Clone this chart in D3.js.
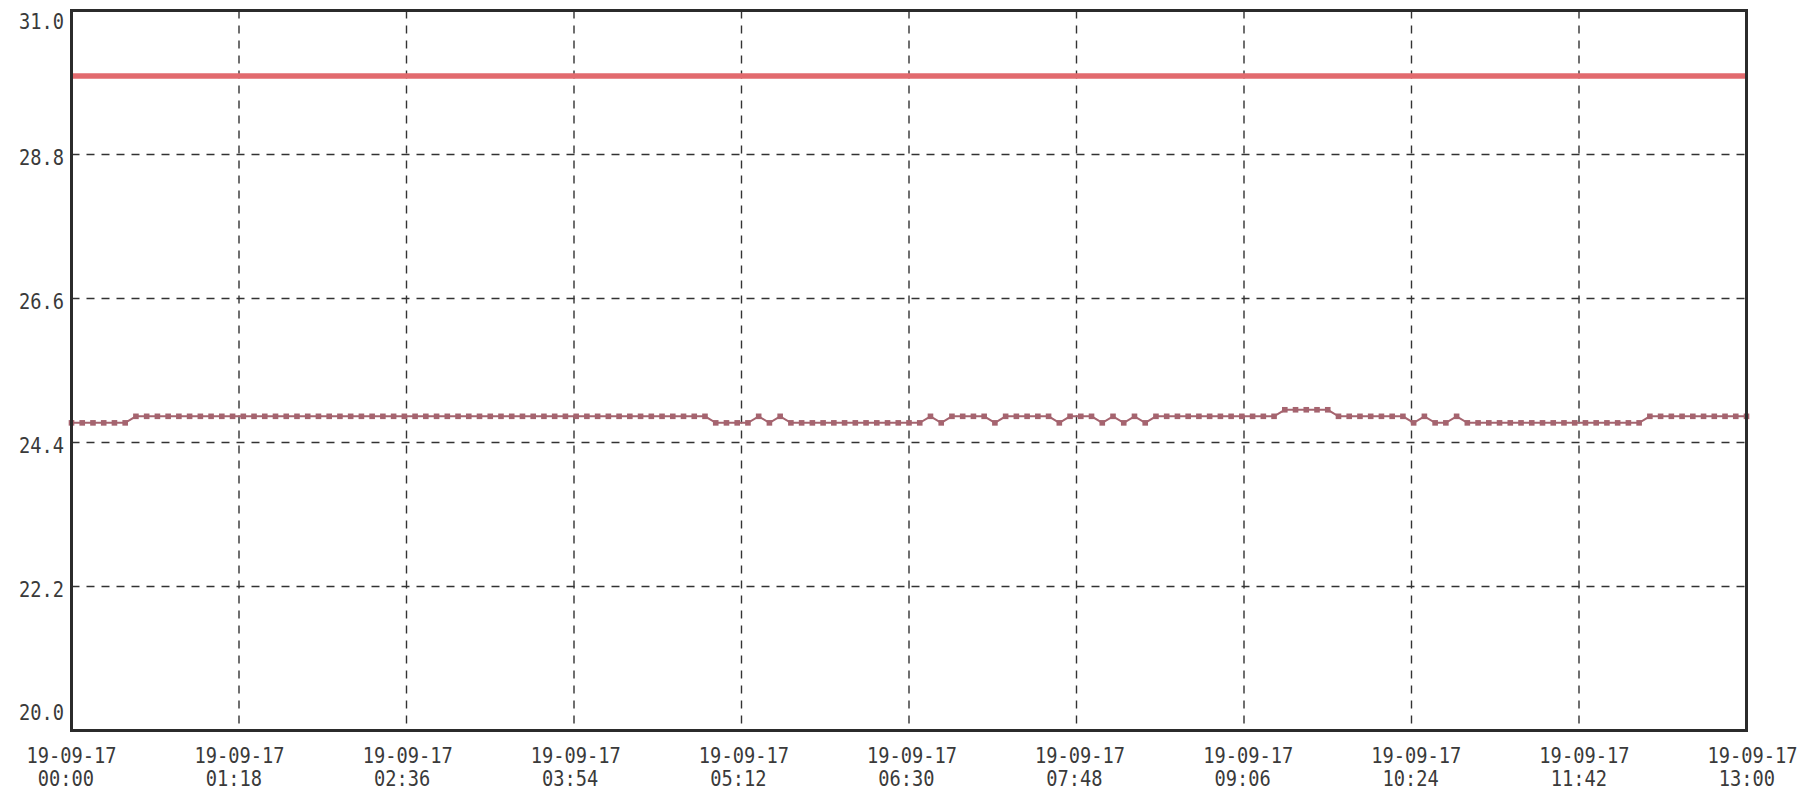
<!DOCTYPE html>
<html><head><meta charset="utf-8">
<script src="https://cdn.jsdelivr.net/npm/d3@7"></script>
<style>html,body{margin:0;padding:0;background:#fff;} svg{display:block}</style>
</head><body><svg id="c" width="1812" height="793"></svg>
<script>
// ---- data ----
const dateLabel = "19-09-17";
const xTickTimes = ["00:00","01:18","02:36","03:54","05:12","06:30","07:48","09:06","10:24","11:42","13:00"];
const yTicks = [20.0, 22.2, 24.4, 26.6, 28.8, 31.0];
const sampleStepMinutes = 5; // one sample every 5 minutes, 00:00 .. 13:00

const setpoint = [
  30.0,30.0,30.0,30.0,30.0,30.0,30.0,30.0,30.0,30.0,
  30.0,30.0,30.0,30.0,30.0,30.0,30.0,30.0,30.0,30.0,
  30.0,30.0,30.0,30.0,30.0,30.0,30.0,30.0,30.0,30.0,
  30.0,30.0,30.0,30.0,30.0,30.0,30.0,30.0,30.0,30.0,
  30.0,30.0,30.0,30.0,30.0,30.0,30.0,30.0,30.0,30.0,
  30.0,30.0,30.0,30.0,30.0,30.0,30.0,30.0,30.0,30.0,
  30.0,30.0,30.0,30.0,30.0,30.0,30.0,30.0,30.0,30.0,
  30.0,30.0,30.0,30.0,30.0,30.0,30.0,30.0,30.0,30.0,
  30.0,30.0,30.0,30.0,30.0,30.0,30.0,30.0,30.0,30.0,
  30.0,30.0,30.0,30.0,30.0,30.0,30.0,30.0,30.0,30.0,
  30.0,30.0,30.0,30.0,30.0,30.0,30.0,30.0,30.0,30.0,
  30.0,30.0,30.0,30.0,30.0,30.0,30.0,30.0,30.0,30.0,
  30.0,30.0,30.0,30.0,30.0,30.0,30.0,30.0,30.0,30.0,
  30.0,30.0,30.0,30.0,30.0,30.0,30.0,30.0,30.0,30.0,
  30.0,30.0,30.0,30.0,30.0,30.0,30.0,30.0,30.0,30.0,
  30.0,30.0,30.0,30.0,30.0,30.0,30.0
];

const measured = [
  24.7,24.7,24.7,24.7,24.7,24.7,24.8,24.8,24.8,24.8,
  24.8,24.8,24.8,24.8,24.8,24.8,24.8,24.8,24.8,24.8,
  24.8,24.8,24.8,24.8,24.8,24.8,24.8,24.8,24.8,24.8,
  24.8,24.8,24.8,24.8,24.8,24.8,24.8,24.8,24.8,24.8,
  24.8,24.8,24.8,24.8,24.8,24.8,24.8,24.8,24.8,24.8,
  24.8,24.8,24.8,24.8,24.8,24.8,24.8,24.8,24.8,24.8,
  24.7,24.7,24.7,24.7,24.8,24.7,24.8,24.7,24.7,24.7,
  24.7,24.7,24.7,24.7,24.7,24.7,24.7,24.7,24.7,24.7,
  24.8,24.7,24.8,24.8,24.8,24.8,24.7,24.8,24.8,24.8,
  24.8,24.8,24.7,24.8,24.8,24.8,24.7,24.8,24.7,24.8,
  24.7,24.8,24.8,24.8,24.8,24.8,24.8,24.8,24.8,24.8,
  24.8,24.8,24.8,24.9,24.9,24.9,24.9,24.9,24.8,24.8,
  24.8,24.8,24.8,24.8,24.8,24.7,24.8,24.7,24.7,24.8,
  24.7,24.7,24.7,24.7,24.7,24.7,24.7,24.7,24.7,24.7,
  24.7,24.7,24.7,24.7,24.7,24.7,24.7,24.8,24.8,24.8,
  24.8,24.8,24.8,24.8,24.8,24.8,24.8
];

// ---- layout ----
const pLeft = 71.5, pRight = 1746.5, pTop = 10.5, pBottom = 730.5;
const toMin = s => { const [h, m] = s.split(":").map(Number); return h * 60 + m; };
const x = d3.scaleLinear().domain([toMin(xTickTimes[0]), toMin(xTickTimes[xTickTimes.length - 1])]).range([pLeft, pRight]);
const y = d3.scaleLinear().domain([yTicks[0], yTicks[yTicks.length - 1]]).range([pBottom, pTop]);

const svg = d3.select("#c");
const ink = "#2b2b2b";
const font = "'DejaVu Sans Mono', monospace";
const fs = 22, sx = 0.85, charW = fs * 0.602 * sx;
const txt = "#3a3a3a";

// grid
const grid = svg.append("g").attr("stroke", "#333").attr("stroke-width", 1.4).attr("stroke-dasharray", "8,7");
grid.selectAll("line.h").data(yTicks.slice(1, -1)).join("line").attr("class", "h")
  .attr("x1", pLeft).attr("x2", pRight).attr("y1", d => y(d)).attr("y2", d => y(d));
grid.selectAll("line.v").data(xTickTimes.slice(1, -1)).join("line").attr("class", "v")
  .attr("x1", d => x(toMin(d))).attr("x2", d => x(toMin(d))).attr("y1", pTop).attr("y2", pBottom);

// series
const pts = arr => arr.map((v, i) => [i * sampleStepMinutes, v]);
const line = d3.line().x(d => x(d[0])).y(d => y(d[1]));

svg.append("path").datum(pts(setpoint)).attr("d", line)
  .attr("fill", "none").attr("stroke", "#e26a6e").attr("stroke-width", 5.5);

const mcol = "#a5646f";
svg.append("path").datum(pts(measured)).attr("d", line)
  .attr("fill", "none").attr("stroke", mcol).attr("stroke-width", 2);
svg.append("g").selectAll("rect").data(pts(measured)).join("rect")
  .attr("x", d => x(d[0]) - 2.8).attr("y", d => y(d[1]) - 2.8)
  .attr("width", 5.6).attr("height", 5.6).attr("fill", mcol);

// frame
svg.append("rect").attr("x", pLeft).attr("y", pTop).attr("width", pRight - pLeft).attr("height", pBottom - pTop)
  .attr("fill", "none").attr("stroke", ink).attr("stroke-width", 3);

// y labels
const yMax = yTicks[yTicks.length - 1], yMin = yTicks[0];
svg.append("g").selectAll("text").data(yTicks).join("text")
  .attr("transform", d => {
    const dy = d === yMax ? 18 : d === yMin ? -11 : 10;
    return `translate(64,${y(d) + dy}) scale(${sx},1)`;
  })
  .attr("text-anchor", "end").attr("font-family", font).attr("font-size", fs).attr("fill", txt)
  .text(d => d.toFixed(1));

// x labels
const xl = svg.append("g").attr("font-family", font).attr("font-size", fs).attr("fill", txt);
xTickTimes.forEach((t, i) => {
  const cx = x(toMin(t)) + i * 0.6;
  const x0 = cx - (dateLabel.length * charW) / 2;
  xl.append("text").attr("transform", `translate(${x0},762.5) scale(${sx},1)`).text(dateLabel);
  xl.append("text").attr("transform", `translate(${x0 + charW},786) scale(${sx},1)`).text(t);
});
</script>
</body></html>
